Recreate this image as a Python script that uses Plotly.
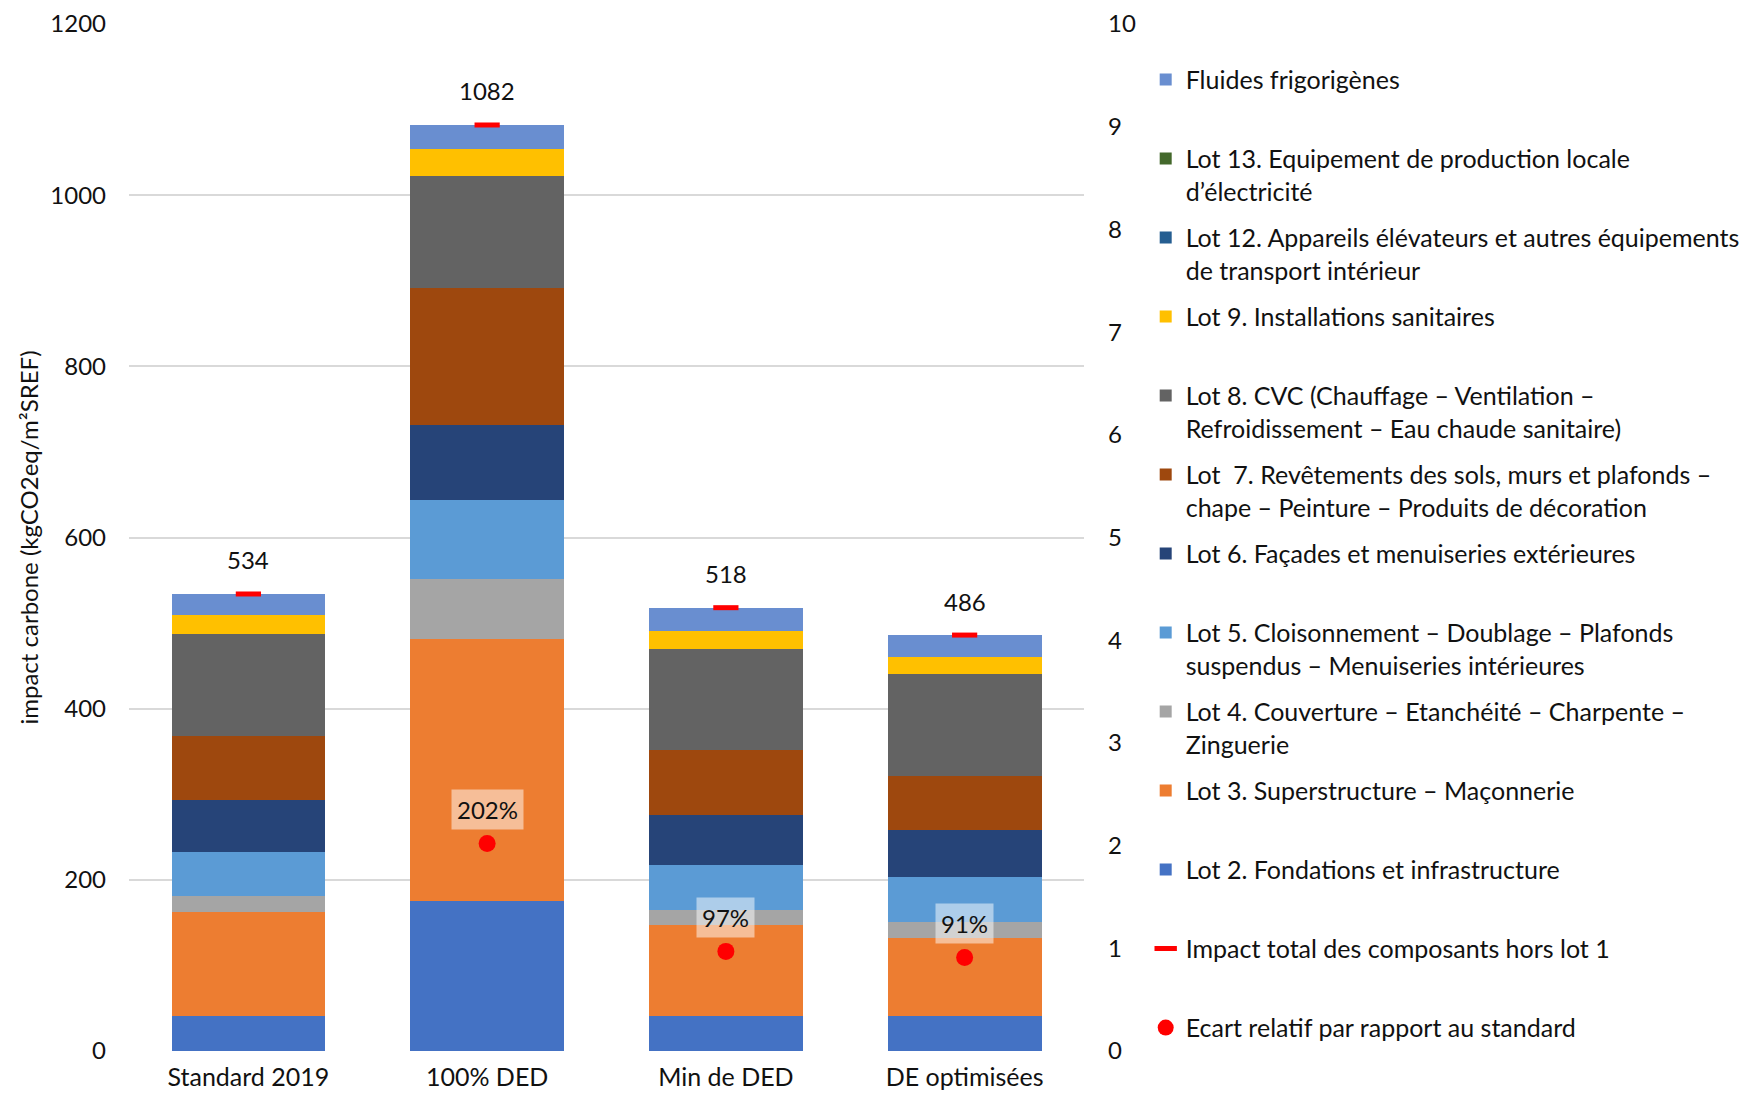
import plotly.graph_objects as go

categories = ["Standard 2019", "100% DED", "Min de DED", "DE optimisées"]

# impact carbone par lot (kgCO2eq/m²SREF)
lot2 = [41, 175, 41, 41]
lot3 = [122, 306, 106, 91]
lot4 = [18, 70, 18, 19]
lot5 = [52, 93, 52, 52]
lot6 = [60, 87, 59, 55]
lot7 = [75, 161, 76, 63]
lot8 = [119, 130, 118, 119]
lot9 = [22, 32, 21, 20]
lot12 = [0, 0, 0, 0]
lot13 = [0, 0, 0, 0]
fluides = [25, 28, 27, 26]

impact_total = [534, 1082, 518, 486]
ecart = [None, 2.02, 0.97, 0.91]  # axe secondaire

FONT = "Lato"
BLANK = "<br>\u00a0"

lots = [
    ("Lot 2. Fondations et infrastructure" + BLANK, lot2, "#4472C4"),
    ("Lot 3. Superstructure – Maçonnerie" + BLANK, lot3, "#ED7D31"),
    ("Lot 4. Couverture – Etanchéité – Charpente –<br>Zinguerie", lot4, "#A5A5A5"),
    ("Lot 5. Cloisonnement – Doublage – Plafonds<br>suspendus – Menuiseries intérieures", lot5, "#5B9BD5"),
    ("Lot 6. Façades et menuiseries extérieures" + BLANK, lot6, "#264478"),
    ("Lot  7. Revêtements des sols, murs et plafonds –<br>chape – Peinture – Produits de décoration", lot7, "#9E480E"),
    ("Lot 8. CVC (Chauffage – Ventilation –<br>Refroidissement – Eau chaude sanitaire)", lot8, "#636363"),
    ("Lot 9. Installations sanitaires" + BLANK, lot9, "#FFC000"),
    ("Lot 12. Appareils élévateurs et autres équipements<br>de transport intérieur", lot12, "#255E91"),
    ("Lot 13. Equipement de production locale<br>d’électricité", lot13, "#43682B"),
    ("Fluides frigorigènes" + BLANK, fluides, "#698ED0"),
]

fig = go.Figure()

n = len(lots)
for i, (name, vals, col) in enumerate(lots):
    fig.add_trace(go.Bar(
        x=categories, y=vals, name=name, legendgroup=name, legendrank=n - i,
        marker=dict(color=col, line=dict(width=0)),
    ))

fig.add_trace(go.Scatter(
    x=categories, y=impact_total, mode="markers",
    name="Impact total des composants hors lot 1" + BLANK,
    legendgroup="impact", legendrank=n + 1,
    marker=dict(symbol="line-ew", size=18, line=dict(color="#FF0000", width=5)),
))
fig.add_trace(go.Scatter(
    x=categories, y=ecart, yaxis="y2", mode="markers",
    name="Ecart relatif par rapport au standard" + BLANK,
    legendgroup="ecart", legendrank=n + 2,
    marker=dict(color="#FF0000", size=17, symbol="circle"),
))

# étiquettes des totaux
for c, v in zip(categories, impact_total):
    fig.add_annotation(x=c, y=v, text=str(v), showarrow=False, yshift=34,
                       font=dict(family=FONT, size=24, color="#111"),
                       bgcolor="rgba(255,255,255,0.8)", borderpad=3)

# étiquettes des écarts
for c, v in zip(categories, ecart):
    if v is None:
        continue
    fig.add_annotation(x=c, y=v, yref="y2", text=f"{v:.0%}", showarrow=False, yshift=34,
                       font=dict(family=FONT, size=24, color="#111"),
                       bgcolor="rgba(255,255,255,0.5)", borderpad=5)

fig.update_layout(
    width=1749, height=1089,
    barmode="stack", bargap=0.356,
    paper_bgcolor="white", plot_bgcolor="white",
    font=dict(family=FONT, size=24, color="#111"),
    margin=dict(l=121, r=668, t=16, b=46),
    xaxis=dict(showgrid=False, showline=False, ticks="", automargin=False,
               ticklabelstandoff=9, tickfont=dict(size=25)),
    yaxis=dict(range=[0, 1200], dtick=200, showgrid=True, gridcolor="#D9D9D9",
               gridwidth=1.5, zeroline=False, showline=False, ticks="",
               automargin=False, ticklabelstandoff=22, tickfont=dict(size=24),
               ticklabeloverflow="allow",
               title=dict(text="impact carbone (kgCO2eq/m²SREF)", font=dict(size=24), standoff=4)),
    yaxis2=dict(range=[0, 10], dtick=1, overlaying="y", side="right", showgrid=False,
                zeroline=False, showline=False, ticks="", automargin=False,
                ticklabelstandoff=23, tickfont=dict(size=24), ticklabeloverflow="allow"),
    legend=dict(x=1.0646, xanchor="left", y=0.968, yanchor="top",
                traceorder="grouped", tracegroupgap=11, valign="top",
                font=dict(family=FONT, size=25, color="#111"), bgcolor="rgba(0,0,0,0)"),
    showlegend=True,
)

fig.write_html("out.html")
